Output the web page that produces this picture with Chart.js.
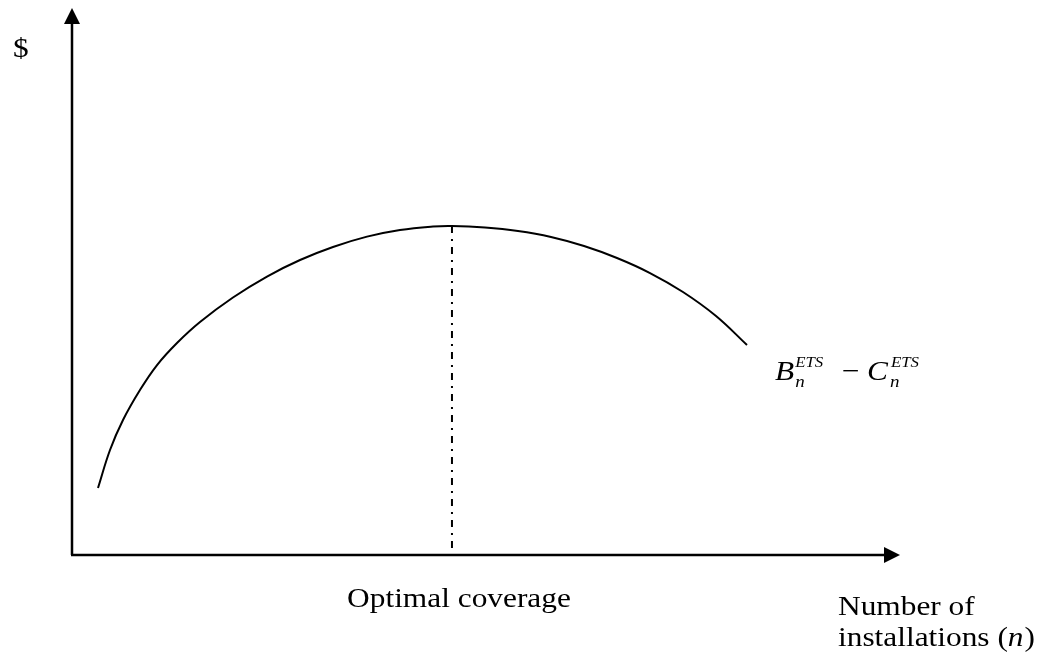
<!DOCTYPE html>
<html>
<head>
<meta charset="utf-8">
<script src="https://cdn.jsdelivr.net/npm/chart.js@4/dist/chart.umd.min.js"></script>
<style>
  html, body { margin: 0; padding: 0; background: #fff; }
  #wrap { width: 1046px; height: 666px; position: relative; }
</style>
</head>
<body>
<div id="wrap"><canvas id="myChart"></canvas></div>
<script>
const ctxEl = document.getElementById('myChart')

// number of installations (abstract units, 0-100 along the axis)
const installs = [3.14, 4.59, 6.16, 8.21, 10.27, 12.68, 15.46, 19.44, 23.55, 27.54, 31.52, 35.63, 39.61, 43.6, 45.89,
                  49.88, 53.86, 57.85, 61.84, 65.82, 69.81, 73.79, 77.78, 81.52]
// B_n - C_n  (abstract $, 0-100 up the axis)
const netBenefit = [12.25, 19.2, 24.68, 30.16, 34.73, 38.76, 42.6, 47.08, 50.91, 53.93, 56.31, 58.2, 59.41, 60.05, 60.15,
                    59.87, 59.23, 58.14, 56.49, 54.3, 51.55, 48.08, 43.69, 38.39]
const optimalN = 45.89
const optimalValue = 60.15
const axisMax = [100, 100]

const curvePts = installs.map((n, i) => ({ x: n, y: netBenefit[i] }))
const optimalPts = [{ x: optimalN, y: optimalValue }, { x: optimalN, y: 0 }]

const SERIF = '"Liberation Serif", "Times New Roman", serif'
const SX = 1.12 // the original text looks a bit wide

function txt(c, s, x, y, size, italic, align) {
  c.save()
  c.font = (italic ? 'italic ' : '') + size + 'px ' + SERIF
  c.fillStyle = '#000'
  c.textBaseline = 'alphabetic'
  let w = c.measureText(s).width * SX
  let x0 = x
  if (align === 'center') x0 = x - w / 2
  c.translate(x0, y)
  c.scale(SX, 1)
  c.textAlign = 'left'
  c.fillText(s, 0, 0)
  c.restore()
  return x0 + w
}

// axes with arrow heads + labels
const decor = {
  id: 'decor',
  afterDraw(chart) {
    const c = chart.ctx
    const a = chart.chartArea
    c.save()
    c.strokeStyle = '#000'
    c.fillStyle = '#000'
    c.lineWidth = 2.5
    c.beginPath()
    c.moveTo(a.left, a.bottom)
    c.lineTo(a.left, a.top + 12)
    c.moveTo(a.left - 1, a.bottom)
    c.lineTo(a.right - 12, a.bottom)
    c.stroke()
    // up arrow
    c.beginPath()
    c.moveTo(a.left, a.top)
    c.lineTo(a.left - 8, a.top + 16)
    c.lineTo(a.left + 8, a.top + 16)
    c.closePath()
    c.fill()
    // right arrow
    c.beginPath()
    c.moveTo(a.right, a.bottom)
    c.lineTo(a.right - 16, a.bottom - 8)
    c.lineTo(a.right - 16, a.bottom + 8)
    c.closePath()
    c.fill()
    c.restore()

    txt(c, '$', 13, 57, 28, false)
    txt(c, 'Optimal coverage', 459, 607, 28, false, 'center')
    txt(c, 'Number of', 838, 615, 28, false)
    let e = txt(c, 'installations (', 838, 646, 28, false)
    e = txt(c, 'n', e, 646, 28, true)
    txt(c, ')', e + 1, 646, 28, false)

    // B_n^ETS - C_n^ETS
    let bx = txt(c, 'B', 775, 380, 28, true)
    txt(c, 'n', bx + 1, 387, 17, true)
    txt(c, 'ETS', bx + 1, 367, 15, true)
    txt(c, '\u2212', 842, 380, 28, false)
    let cx = txt(c, 'C', 867, 380, 28, true)
    txt(c, 'n', cx + 2, 387, 17, true)
    txt(c, 'ETS', cx + 3, 367, 15, true)
  }
}

const chart = new Chart(ctxEl, {
  type: 'scatter',
  data: {
    datasets: [{
      label: 'net benefit',
      data: curvePts,
      showLine: true,
      borderColor: '#000',
      borderWidth: 2,
      pointRadius: 0,
      tension: 0.4,
      fill: false
    }, {
      label: 'optimal coverage',
      data: optimalPts,
      showLine: true,
      borderColor: '#000',
      borderWidth: 2,
      borderDash: [7, 6, 2, 6],
      pointRadius: 0
    }]
  },
  options: {
    responsive: true,
    maintainAspectRatio: false,
    animation: false,
    devicePixelRatio: 1,
    layout: { padding: { left: 72, right: 146, top: 8, bottom: 111 } },
    plugins: { legend: { display: false }, tooltip: { enabled: false } },
    scales: {
      x: { type: 'linear', min: 0, max: axisMax[0], display: false },
      y: { type: 'linear', min: 0, max: axisMax[1], display: false }
    }
  },
  plugins: [decor]
})
</script>
</body>
</html>
